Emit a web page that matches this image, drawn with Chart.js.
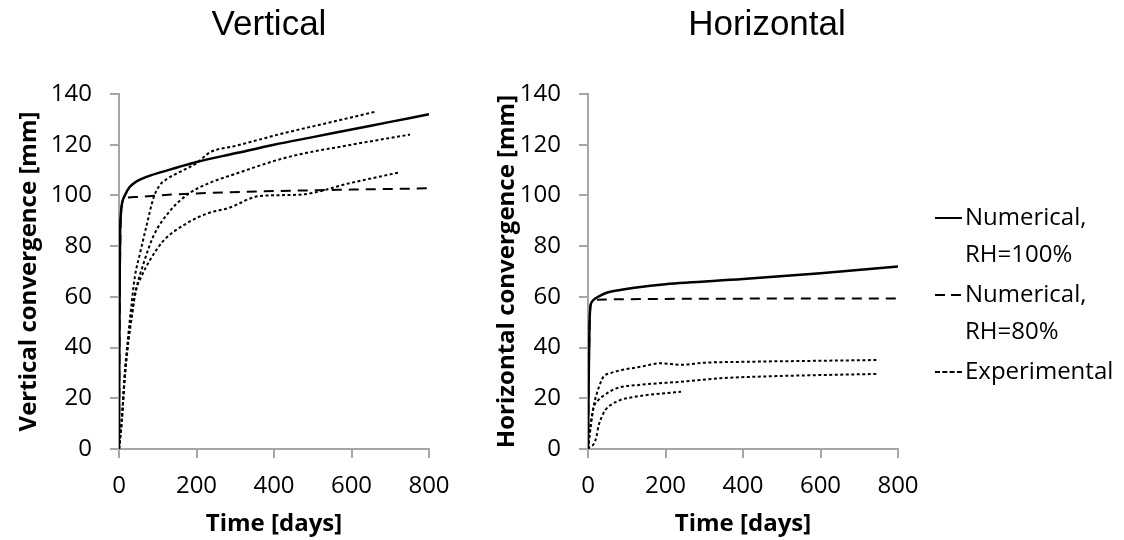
<!DOCTYPE html>
<html>
<head>
<meta charset="utf-8">
<script src="https://cdn.jsdelivr.net/npm/chart.js@4/dist/chart.umd.min.js"></script>
<style>
  html, body { margin: 0; padding: 0; background: #fff; }
  #wrap { position: relative; width: 1124px; height: 540px; overflow: hidden; }
  #wrap canvas { position: absolute; top: 0; }
  #vertChart { left: 0; }
  #horzChart { left: 410px; }
</style>
</head>
<body>
<div id="wrap">
  <canvas id="vertChart" width="538" height="540"></canvas>
  <canvas id="horzChart" width="714" height="540"></canvas>
</div>
<script>
// [time in days, convergence in mm]
var vertNum100 = [[0,0],[1,40],[2,72],[3,86],[5,93],[8,97],[15,100],[28,103.4],[45,105.5],[60,106.6],[80,107.8],[100,108.8],[150,111],[200,113.2],[300,116.6],[400,120],[500,123],[600,126],[700,129],[800,132]];
var vertNum80 = [[0,0],[2,60],[4,88],[7,96],[12,98.5],[25,99.2],[50,99.4],[100,100],[200,100.8],[400,101.7],[600,102.3],[800,102.8]];
var vertExp1 = [[0,0],[7,11],[15,30],[24,45],[33,58],[41,68],[54,77],[71,88],[89,99],[105,104],[119,106],[160,109.5],[200,112.7],[235,117],[300,119.5],[424,124.5],[550,129],[661,133]];
var vertExp2 = [[0,0],[7,11],[15,29],[24,43],[33,53],[46,64],[63,73],[89,84],[132,94],[183,101],[235,105],[300,108.5],[433,115],[600,120],[751,124]];
var vertExp3 = [[0,0],[7,11],[15,28],[24,42],[33,52],[41,61],[58,68],[80,74.5],[114,82],[175,89],[230,93],[282,95],[364,99.8],[467,100.3],[600,105],[721,109]];

var horzNum100 = [[0,0],[2,30],[4,50],[6,56],[10,58],[20,59.5],[32,60.5],[50,61.7],[83,62.7],[120,63.6],[200,65],[400,67],[600,69.3],[800,72]];
var horzNum80 = [[0,0],[3,40],[6,56],[10,58],[20,58.8],[50,59],[200,59.2],[400,59.3],[800,59.4]];
var horzExp1 = [[0,0],[3,5],[6,9],[10,13],[16,18],[23,22],[32,26],[40,28.5],[60,30],[83,31],[135,32.4],[187,33.8],[238,33.2],[300,34],[410,34.4],[600,34.8],[750,35.1]];
var horzExp2 = [[0,0],[4,5],[8,10],[14,16],[25,19],[40,21],[75,24],[135,25.3],[238,26.5],[341,27.9],[500,28.8],[750,29.6]];
var horzExp3 = [[0,0],[5,1],[15,2],[22,5],[27,9],[35,12.5],[45,15.4],[60,17.5],[83,19.3],[110,20.3],[152,21.3],[200,22],[240,22.6]];

var legendLabels = [['Numerical,', 'RH=100%'], ['Numerical,', 'RH=80%'], ['Experimental']];
var chartTitles = ['Vertical', 'Horizontal'];
var yTitles = ['Vertical convergence [mm]', 'Horizontal convergence [mm]'];
var xTitle = 'Time [days]';

var tickFont = { family: '"Open Sans", sans-serif', size: 24 };
var axisTitleFont = { family: '"Open Sans", sans-serif', size: 24, weight: 'bold' };
var axisGray = '#a6a6a6';

var solidLine = [];
var dashedLine = [10, 7];
var dottedLine = [3, 2.5];

function toPoints(pairs) {
    return pairs.map(function(p) { return { x: p[0], y: p[1] }; });
}

function lineSet(label, pairs, dash) {
    return {
        label: label,
        data: toPoints(pairs),
        borderColor: '#000',
        borderWidth: dash === solidLine ? 2.5 : 2,
        borderDash: dash,
        pointRadius: 0,
        fill: false,
        cubicInterpolationMode: 'monotone'
    };
}

// legend on the right of the horizontal chart, drawn straight onto the canvas
var sideLegend = {
    id: 'sideLegend',
    afterDraw: function(chart) {
        var ctx = chart.ctx;
        var styles = [solidLine, [10, 6], [5, 2.3]];
        var x0 = 525, lineLen = 27, textX = 555;
        var y = 218, rowH = 37.5;
        ctx.save();
        ctx.font = '24px "Open Sans", sans-serif';
        ctx.fillStyle = '#000';
        ctx.textBaseline = 'middle';
        ctx.textAlign = 'left';
        legendLabels.forEach(function(lines, i) {
            ctx.beginPath();
            ctx.setLineDash(styles[i]);
            ctx.lineWidth = 2;
            ctx.strokeStyle = '#000';
            ctx.moveTo(x0, y);
            ctx.lineTo(x0 + lineLen, y);
            ctx.stroke();
            lines.forEach(function(t, j) {
                ctx.fillText(t, textX, y + j * rowH);
            });
            y += lines.length * rowH + 2;
        });
        ctx.restore();
    }
};

// yWidth: room left of the plot; titleGap: space before the y title; rightRoom: empty strip right of it
function makeOptions(title, yTitle, yWidth, titleGap, rightRoom) {
    return {
        responsive: false,
        animation: false,
        devicePixelRatio: 1,
        layout: { padding: 0 },
        plugins: {
            legend: { display: false },
            tooltip: { enabled: false },
            title: {
                display: true,
                text: title,
                color: '#000',
                font: { family: '"Liberation Sans", Arial, sans-serif', size: 35, weight: 'normal' },
                padding: { top: 4, bottom: 48 }
            }
        },
        scales: {
            x: {
                type: 'linear',
                min: 0,
                max: 800,
                ticks: { stepSize: 200, color: '#000', font: tickFont, padding: 14, maxRotation: 0 },
                grid: { drawOnChartArea: false, tickLength: 9, color: axisGray, lineWidth: 2 },
                border: { color: axisGray, width: 2 },
                title: { display: true, text: xTitle, color: '#000', font: axisTitleFont, padding: { top: 0, bottom: 1 } },
                afterFit: function(scale) { scale.height = 91; }
            },
            y: {
                min: 0,
                max: 140,
                ticks: { stepSize: 20, color: '#000', font: tickFont, padding: 18 },
                grid: { drawOnChartArea: false, tickLength: 9, color: axisGray, lineWidth: 2 },
                border: { color: axisGray, width: 2 },
                title: { display: true, text: yTitle, color: '#000', font: axisTitleFont, padding: { top: titleGap, bottom: 0 } },
                afterFit: function(scale) { scale.width = yWidth; }
            },
            spacer: {
                position: 'right',
                min: 0,
                max: 140,
                ticks: { display: false },
                grid: { display: false },
                border: { display: false },
                afterFit: function(scale) { scale.width = rightRoom; }
            }
        }
    };
}

new Chart(document.getElementById('vertChart').getContext('2d'), {
    type: 'line',
    data: {
        datasets: [
            lineSet('Numerical, RH=100%', vertNum100, solidLine),
            lineSet('Numerical, RH=80%', vertNum80, dashedLine),
            lineSet('Experimental', vertExp1, dottedLine),
            lineSet('Experimental', vertExp2, dottedLine),
            lineSet('Experimental', vertExp3, dottedLine)
        ]
    },
    options: makeOptions(chartTitles[0], yTitles[0], 119, 15, 109)
});

new Chart(document.getElementById('horzChart').getContext('2d'), {
    type: 'line',
    data: {
        datasets: [
            lineSet('Numerical, RH=100%', horzNum100, solidLine),
            lineSet('Numerical, RH=80%', horzNum80, dashedLine),
            lineSet('Experimental', horzExp1, dottedLine),
            lineSet('Experimental', horzExp2, dottedLine),
            lineSet('Experimental', horzExp3, dottedLine)
        ]
    },
    options: makeOptions(chartTitles[1], yTitles[1], 178, 83, 226),
    plugins: [sideLegend]
});
</script>
</body>
</html>
